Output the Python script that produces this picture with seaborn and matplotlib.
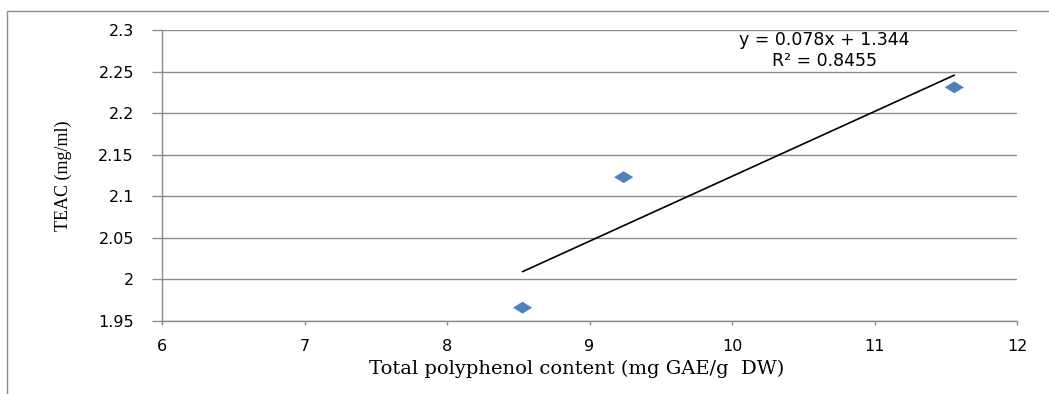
import matplotlib
matplotlib.use("Agg")
import matplotlib.pyplot as plt
import seaborn as sns
import pandas as pd
from matplotlib.patches import Rectangle

# Data
polyphenol = [8.53, 9.24, 11.56]
teac = [1.966, 2.123, 2.231]
slope = 0.078
intercept = 1.344
r2 = 0.8455
x_ticks = [6, 7, 8, 9, 10, 11, 12]
y_ticks = [1.95, 2.0, 2.05, 2.1, 2.15, 2.2, 2.25, 2.3]
y_ticklabels = ["1.95", "2", "2.05", "2.1", "2.15", "2.2", "2.25", "2.3"]

sns.set_theme(style="white")
plt.rcParams['font.family'] = ['DejaVu Sans']
plt.rcParams['text.color'] = 'black'
plt.rcParams['axes.labelcolor'] = 'black'
plt.rcParams['xtick.labelcolor'] = 'black'
plt.rcParams['ytick.labelcolor'] = 'black'

fig = plt.figure(figsize=(10.49, 3.94), dpi=100)
ax = fig.add_axes([162/1049, 1-321/394, (1017-162)/1049, (321-30)/394])

grid_c = "#8c8c8c"
for yv in y_ticks:
    ax.axhline(yv, color=grid_c, lw=1.0, zorder=0)

df = pd.DataFrame({"x": polyphenol, "y": teac})
diamond = [(-1, 0), (0, 0.62), (1, 0), (0, -0.62), (-1, 0)]
sns.scatterplot(data=df, x="x", y="y", marker=diamond, s=190, color="#4F81BD",
                edgecolor="none", ax=ax, zorder=3)

xs = [min(polyphenol), max(polyphenol)]
line_df = pd.DataFrame({"x": xs, "y": [slope * v + intercept for v in xs]})
sns.lineplot(data=line_df, x="x", y="y", color="black", lw=1.2, ax=ax, zorder=2)

ax.set_xlim(6, 12)
ax.set_ylim(1.95, 2.3)
ax.set_xticks(x_ticks)
ax.set_xticklabels([str(v) for v in x_ticks])
ax.set_yticks(y_ticks)
ax.set_yticklabels(y_ticklabels)

for s in ["top", "right"]:
    ax.spines[s].set_visible(False)
for s in ["left", "bottom"]:
    ax.spines[s].set_color(grid_c)
    ax.spines[s].set_linewidth(1.0)

ax.tick_params(axis="y", length=7.2, width=1.0, color=grid_c, pad=13, labelsize=11.5, left=True,
               labelcolor="black")
ax.tick_params(axis="x", length=3, width=1.0, color=grid_c, pad=10, labelsize=11.5, bottom=True,
               labelcolor="black")

ax.set_xlabel("Total polyphenol content (mg GAE/g  DW)", family="DejaVu Serif", fontsize=14,
              color="black")
ax.set_ylabel("TEAC (mg/ml)", family="Liberation Serif", fontsize=13, color="black")
ax.xaxis.set_label_coords(0.485, -0.132)
ax.yaxis.set_label_coords(-0.105, 0.5)

ax.text(10.65, 2.288, f"y = {slope}x + {intercept}", ha="center", va="center", fontsize=12.5,
        color="black")
ax.text(10.65, 2.263, f"R² = {r2}", ha="center", va="center", fontsize=12.5, color="black")

fig.patches.append(Rectangle((7/1049, -0.1), 1.2, 1.1 - 11/394, transform=fig.transFigure,
                             fill=False, edgecolor="#8c8c8c", lw=1.0))

fig.savefig("out.png", dpi=100)
